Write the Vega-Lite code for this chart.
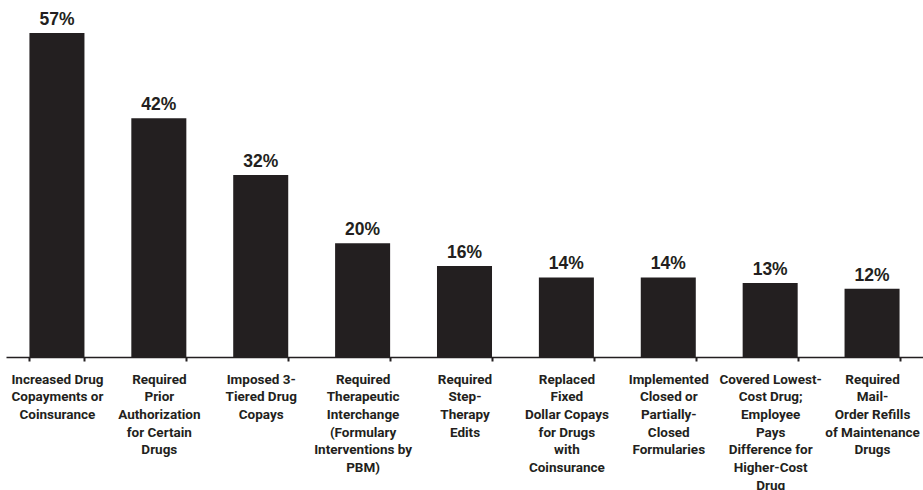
{
  "$schema": "https://vega.github.io/schema/vega-lite/v6.json",
  "width": 917,
  "height": 357,
  "autosize": {"type": "none"},
  "padding": {"left": 6, "top": 0, "right": 0, "bottom": 133},
  "background": "white",
  "data": {
    "values": [
      {"label": "Increased Drug|Copayments or|Coinsurance", "pct": 57},
      {"label": "Required|Prior|Authorization|for Certain|Drugs", "pct": 42},
      {"label": "Imposed 3-|Tiered Drug|Copays", "pct": 32},
      {"label": "Required|Therapeutic|Interchange|(Formulary|Interventions by|PBM)", "pct": 20},
      {"label": "Required|Step-|Therapy|Edits", "pct": 16},
      {"label": "Replaced|Fixed|Dollar Copays|for Drugs|with|Coinsurance", "pct": 14},
      {"label": "Implemented|Closed or|Partially-|Closed|Formularies", "pct": 14},
      {"label": "Covered Lowest-|Cost Drug;|Employee|Pays|Difference for|Higher-Cost|Drug", "pct": 13},
      {"label": "Required|Mail-|Order Refills|of Maintenance|Drugs", "pct": 12}
    ]
  },
  "encoding": {
    "x": {
      "field": "label",
      "type": "nominal",
      "sort": null,
      "scale": {"paddingInner": 0.46, "paddingOuter": 0.23},
      "axis": {
        "title": null,
        "labelAngle": 0,
        "labelExpr": "split(datum.label, '|')",
        "labelFont": "Roboto",
        "labelFontWeight": "bold",
        "labelFontSize": 13.5,
        "labelLineHeight": 17.7,
        "labelColor": "#231f20",
        "labelPadding": 11,
        "labelBaseline": "top",
        "tickBand": "extent",
        "tickSize": 4,
        "tickWidth": 2,
        "tickColor": "#231f20",
        "domainColor": "#231f20",
        "domainWidth": 1.5,
        "labelOverlap": false,
        "labelLimit": 0
      }
    },
    "y": {
      "field": "pct",
      "type": "quantitative",
      "scale": {"domain": [0, 62.8], "nice": false},
      "axis": null
    }
  },
  "layer": [
    {"mark": {"type": "bar", "color": "#231f20"}},
    {
      "mark": {"type": "text", "font": "Liberation Sans", "fontWeight": "bold", "fontSize": 17.5, "color": "#231f20", "baseline": "alphabetic", "dy": -8, "text": {"expr": "datum.pct + '%'"}}
    }
  ],
  "config": {"view": {"stroke": null}}
}
